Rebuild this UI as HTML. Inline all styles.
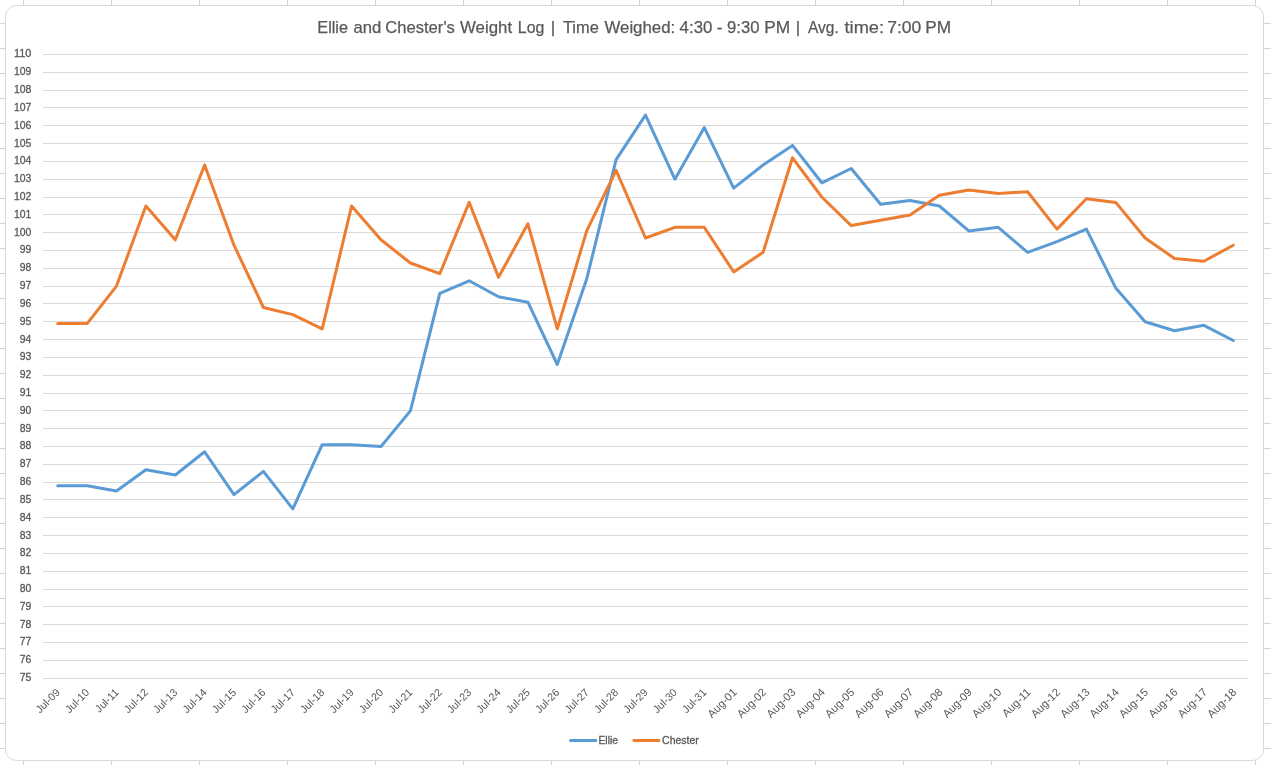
<!DOCTYPE html>
<html lang="en"><head><meta charset="utf-8"><title>Ellie and Chester's Weight Log</title>
<style>html,body{margin:0;padding:0;background:#fff;}body{width:1271px;height:765px;overflow:hidden;position:relative;font-family:"Liberation Sans",sans-serif;}svg{position:absolute;left:0;top:0;display:block}text{font-family:"Liberation Sans",sans-serif;fill:#595959}.s,.s text{stroke:#595959;stroke-width:0.3px}</style></head><body>
<svg width="1271" height="765" viewBox="0 0 1271 765">
<g fill="#D4D4D4" shape-rendering="crispEdges">
<rect x="23" y="0" width="1" height="765"/>
<rect x="111" y="0" width="1" height="765"/>
<rect x="199" y="0" width="1" height="765"/>
<rect x="287" y="0" width="1" height="765"/>
<rect x="375" y="0" width="1" height="765"/>
<rect x="463" y="0" width="1" height="765"/>
<rect x="551" y="0" width="1" height="765"/>
<rect x="639" y="0" width="1" height="765"/>
<rect x="727" y="0" width="1" height="765"/>
<rect x="815" y="0" width="1" height="765"/>
<rect x="903" y="0" width="1" height="765"/>
<rect x="991" y="0" width="1" height="765"/>
<rect x="1079" y="0" width="1" height="765"/>
<rect x="1167" y="0" width="1" height="765"/>
<rect x="1255" y="0" width="1" height="765"/>
<rect x="0" y="23" width="1271" height="1"/>
<rect x="0" y="48" width="1271" height="1"/>
<rect x="0" y="73" width="1271" height="1"/>
<rect x="0" y="98" width="1271" height="1"/>
<rect x="0" y="123" width="1271" height="1"/>
<rect x="0" y="148" width="1271" height="1"/>
<rect x="0" y="173" width="1271" height="1"/>
<rect x="0" y="198" width="1271" height="1"/>
<rect x="0" y="223" width="1271" height="1"/>
<rect x="0" y="248" width="1271" height="1"/>
<rect x="0" y="273" width="1271" height="1"/>
<rect x="0" y="298" width="1271" height="1"/>
<rect x="0" y="323" width="1271" height="1"/>
<rect x="0" y="348" width="1271" height="1"/>
<rect x="0" y="373" width="1271" height="1"/>
<rect x="0" y="398" width="1271" height="1"/>
<rect x="0" y="423" width="1271" height="1"/>
<rect x="0" y="448" width="1271" height="1"/>
<rect x="0" y="473" width="1271" height="1"/>
<rect x="0" y="498" width="1271" height="1"/>
<rect x="0" y="523" width="1271" height="1"/>
<rect x="0" y="548" width="1271" height="1"/>
<rect x="0" y="573" width="1271" height="1"/>
<rect x="0" y="598" width="1271" height="1"/>
<rect x="0" y="623" width="1271" height="1"/>
<rect x="0" y="648" width="1271" height="1"/>
<rect x="0" y="673" width="1271" height="1"/>
<rect x="0" y="698" width="1271" height="1"/>
<rect x="0" y="723" width="1271" height="1"/>
<rect x="0" y="748" width="1271" height="1"/>
</g>
<rect x="5.5" y="5.5" width="1258" height="755" rx="11" ry="11" fill="#fff" stroke="#D9D9D9" stroke-width="1"/>
<g fill="#D9D9D9" shape-rendering="crispEdges">
<rect x="43" y="54" width="1205" height="1"/>
<rect x="43" y="72" width="1205" height="1"/>
<rect x="43" y="90" width="1205" height="1"/>
<rect x="43" y="107" width="1205" height="1"/>
<rect x="43" y="125" width="1205" height="1"/>
<rect x="43" y="143" width="1205" height="1"/>
<rect x="43" y="161" width="1205" height="1"/>
<rect x="43" y="179" width="1205" height="1"/>
<rect x="43" y="197" width="1205" height="1"/>
<rect x="43" y="214" width="1205" height="1"/>
<rect x="43" y="232" width="1205" height="1"/>
<rect x="43" y="250" width="1205" height="1"/>
<rect x="43" y="268" width="1205" height="1"/>
<rect x="43" y="286" width="1205" height="1"/>
<rect x="43" y="303" width="1205" height="1"/>
<rect x="43" y="321" width="1205" height="1"/>
<rect x="43" y="339" width="1205" height="1"/>
<rect x="43" y="357" width="1205" height="1"/>
<rect x="43" y="375" width="1205" height="1"/>
<rect x="43" y="393" width="1205" height="1"/>
<rect x="43" y="410" width="1205" height="1"/>
<rect x="43" y="428" width="1205" height="1"/>
<rect x="43" y="446" width="1205" height="1"/>
<rect x="43" y="464" width="1205" height="1"/>
<rect x="43" y="482" width="1205" height="1"/>
<rect x="43" y="499" width="1205" height="1"/>
<rect x="43" y="517" width="1205" height="1"/>
<rect x="43" y="535" width="1205" height="1"/>
<rect x="43" y="553" width="1205" height="1"/>
<rect x="43" y="571" width="1205" height="1"/>
<rect x="43" y="589" width="1205" height="1"/>
<rect x="43" y="606" width="1205" height="1"/>
<rect x="43" y="624" width="1205" height="1"/>
<rect x="43" y="642" width="1205" height="1"/>
<rect x="43" y="660" width="1205" height="1"/>
<rect x="43" y="678" width="1205" height="1"/>
</g>
<g class="s" font-size="10.5" text-anchor="end">
<text x="31.4" y="57" textLength="17.4" lengthAdjust="spacingAndGlyphs">110</text>
<text x="31.4" y="75" textLength="17.4" lengthAdjust="spacingAndGlyphs">109</text>
<text x="31.4" y="93" textLength="17.4" lengthAdjust="spacingAndGlyphs">108</text>
<text x="31.4" y="111" textLength="17.4" lengthAdjust="spacingAndGlyphs">107</text>
<text x="31.4" y="129" textLength="17.4" lengthAdjust="spacingAndGlyphs">106</text>
<text x="31.4" y="147" textLength="17.4" lengthAdjust="spacingAndGlyphs">105</text>
<text x="31.4" y="164" textLength="17.4" lengthAdjust="spacingAndGlyphs">104</text>
<text x="31.4" y="182" textLength="17.4" lengthAdjust="spacingAndGlyphs">103</text>
<text x="31.4" y="200" textLength="17.4" lengthAdjust="spacingAndGlyphs">102</text>
<text x="31.4" y="218" textLength="17.4" lengthAdjust="spacingAndGlyphs">101</text>
<text x="31.4" y="236" textLength="17.4" lengthAdjust="spacingAndGlyphs">100</text>
<text x="31.4" y="253" textLength="11.6" lengthAdjust="spacingAndGlyphs">99</text>
<text x="31.4" y="271" textLength="11.6" lengthAdjust="spacingAndGlyphs">98</text>
<text x="31.4" y="289" textLength="11.6" lengthAdjust="spacingAndGlyphs">97</text>
<text x="31.4" y="307" textLength="11.6" lengthAdjust="spacingAndGlyphs">96</text>
<text x="31.4" y="325" textLength="11.6" lengthAdjust="spacingAndGlyphs">95</text>
<text x="31.4" y="343" textLength="11.6" lengthAdjust="spacingAndGlyphs">94</text>
<text x="31.4" y="360" textLength="11.6" lengthAdjust="spacingAndGlyphs">93</text>
<text x="31.4" y="378" textLength="11.6" lengthAdjust="spacingAndGlyphs">92</text>
<text x="31.4" y="396" textLength="11.6" lengthAdjust="spacingAndGlyphs">91</text>
<text x="31.4" y="414" textLength="11.6" lengthAdjust="spacingAndGlyphs">90</text>
<text x="31.4" y="432" textLength="11.6" lengthAdjust="spacingAndGlyphs">89</text>
<text x="31.4" y="449" textLength="11.6" lengthAdjust="spacingAndGlyphs">88</text>
<text x="31.4" y="467" textLength="11.6" lengthAdjust="spacingAndGlyphs">87</text>
<text x="31.4" y="485" textLength="11.6" lengthAdjust="spacingAndGlyphs">86</text>
<text x="31.4" y="503" textLength="11.6" lengthAdjust="spacingAndGlyphs">85</text>
<text x="31.4" y="521" textLength="11.6" lengthAdjust="spacingAndGlyphs">84</text>
<text x="31.4" y="539" textLength="11.6" lengthAdjust="spacingAndGlyphs">83</text>
<text x="31.4" y="556" textLength="11.6" lengthAdjust="spacingAndGlyphs">82</text>
<text x="31.4" y="574" textLength="11.6" lengthAdjust="spacingAndGlyphs">81</text>
<text x="31.4" y="592" textLength="11.6" lengthAdjust="spacingAndGlyphs">80</text>
<text x="31.4" y="610" textLength="11.6" lengthAdjust="spacingAndGlyphs">79</text>
<text x="31.4" y="628" textLength="11.6" lengthAdjust="spacingAndGlyphs">78</text>
<text x="31.4" y="645" textLength="11.6" lengthAdjust="spacingAndGlyphs">77</text>
<text x="31.4" y="663" textLength="11.6" lengthAdjust="spacingAndGlyphs">76</text>
<text x="31.4" y="681" textLength="11.6" lengthAdjust="spacingAndGlyphs">75</text>
</g>
<g text-anchor="end">
<text font-size="10.7" transform="translate(60.6 693.1) rotate(-45)">Jul-09</text>
<text font-size="10.7" transform="translate(90.0 693.1) rotate(-45)">Jul-10</text>
<text font-size="10.7" transform="translate(119.4 693.1) rotate(-45)">Jul-11</text>
<text font-size="10.7" transform="translate(148.8 693.1) rotate(-45)">Jul-12</text>
<text font-size="10.7" transform="translate(178.2 693.1) rotate(-45)">Jul-13</text>
<text font-size="10.7" transform="translate(207.5 693.1) rotate(-45)">Jul-14</text>
<text font-size="10.7" transform="translate(236.9 693.1) rotate(-45)">Jul-15</text>
<text font-size="10.7" transform="translate(266.3 693.1) rotate(-45)">Jul-16</text>
<text font-size="10.7" transform="translate(295.7 693.1) rotate(-45)">Jul-17</text>
<text font-size="10.7" transform="translate(325.1 693.1) rotate(-45)">Jul-18</text>
<text font-size="10.7" transform="translate(354.5 693.1) rotate(-45)">Jul-19</text>
<text font-size="10.7" transform="translate(383.9 693.1) rotate(-45)">Jul-20</text>
<text font-size="10.7" transform="translate(413.3 693.1) rotate(-45)">Jul-21</text>
<text font-size="10.7" transform="translate(442.7 693.1) rotate(-45)">Jul-22</text>
<text font-size="10.7" transform="translate(472.1 693.1) rotate(-45)">Jul-23</text>
<text font-size="10.7" transform="translate(501.4 693.1) rotate(-45)">Jul-24</text>
<text font-size="10.7" transform="translate(530.8 693.1) rotate(-45)">Jul-25</text>
<text font-size="10.7" transform="translate(560.2 693.1) rotate(-45)">Jul-26</text>
<text font-size="10.7" transform="translate(589.6 693.1) rotate(-45)">Jul-27</text>
<text font-size="10.7" transform="translate(619.0 693.1) rotate(-45)">Jul-28</text>
<text font-size="10.7" transform="translate(648.4 693.1) rotate(-45)">Jul-29</text>
<text font-size="10.7" transform="translate(677.8 693.1) rotate(-45)">Jul-30</text>
<text font-size="10.7" transform="translate(707.2 693.1) rotate(-45)">Jul-31</text>
<text font-size="11.2" transform="translate(737.6 692.9) rotate(-45)">Aug-01</text>
<text font-size="11.2" transform="translate(767.0 692.9) rotate(-45)">Aug-02</text>
<text font-size="11.2" transform="translate(796.4 692.9) rotate(-45)">Aug-03</text>
<text font-size="11.2" transform="translate(825.7 692.9) rotate(-45)">Aug-04</text>
<text font-size="11.2" transform="translate(855.1 692.9) rotate(-45)">Aug-05</text>
<text font-size="11.2" transform="translate(884.5 692.9) rotate(-45)">Aug-06</text>
<text font-size="11.2" transform="translate(913.9 692.9) rotate(-45)">Aug-07</text>
<text font-size="11.2" transform="translate(943.3 692.9) rotate(-45)">Aug-08</text>
<text font-size="11.2" transform="translate(972.7 692.9) rotate(-45)">Aug-09</text>
<text font-size="11.2" transform="translate(1002.1 692.9) rotate(-45)">Aug-10</text>
<text font-size="11.2" transform="translate(1031.5 692.9) rotate(-45)">Aug-11</text>
<text font-size="11.2" transform="translate(1060.9 692.9) rotate(-45)">Aug-12</text>
<text font-size="11.2" transform="translate(1090.3 692.9) rotate(-45)">Aug-13</text>
<text font-size="11.2" transform="translate(1119.6 692.9) rotate(-45)">Aug-14</text>
<text font-size="11.2" transform="translate(1149.0 692.9) rotate(-45)">Aug-15</text>
<text font-size="11.2" transform="translate(1178.4 692.9) rotate(-45)">Aug-16</text>
<text font-size="11.2" transform="translate(1207.8 692.9) rotate(-45)">Aug-17</text>
<text font-size="11.2" transform="translate(1237.2 692.9) rotate(-45)">Aug-18</text>
</g>
<polyline points="57.7,485.7 87.1,485.7 116.5,491.0 145.9,469.7 175.3,475.0 204.6,451.8 234.0,494.6 263.4,471.4 292.8,508.9 322.2,444.7 351.6,444.7 381.0,446.5 410.4,410.9 439.8,293.3 469.2,280.8 498.5,296.8 527.9,302.2 557.3,364.5 586.7,279.0 616.1,159.6 645.5,115.1 674.9,179.2 704.3,127.6 733.7,188.1 763.1,165.0 792.5,145.4 821.8,182.8 851.2,168.5 880.6,204.2 910.0,200.6 939.4,206.0 968.8,230.9 998.2,227.3 1027.6,252.3 1057.0,241.6 1086.4,229.1 1115.7,287.9 1145.1,321.8 1174.5,330.7 1203.9,325.3 1233.3,340.5" fill="none" stroke="#5B9BD5" stroke-width="3" stroke-linecap="round" stroke-linejoin="round"/>
<polyline points="57.7,323.6 87.1,323.6 116.5,286.1 145.9,206.0 175.3,239.8 204.6,165.0 234.0,245.2 263.4,307.5 292.8,314.6 322.2,328.9 351.6,206.0 381.0,239.8 410.4,263.0 439.8,273.7 469.2,202.4 498.5,277.2 527.9,223.8 557.3,328.9 586.7,230.9 616.1,170.3 645.5,238.0 674.9,227.3 704.3,227.3 733.7,271.9 763.1,252.3 792.5,157.8 821.8,197.0 851.2,225.6 880.6,220.2 910.0,214.9 939.4,195.3 968.8,189.9 998.2,193.5 1027.6,191.7 1057.0,229.1 1086.4,198.8 1115.7,202.4 1145.1,238.0 1174.5,258.5 1203.9,261.2 1233.3,245.2" fill="none" stroke="#ED7D31" stroke-width="3" stroke-linecap="round" stroke-linejoin="round"/>
<text y="32.7" font-size="17.0" stroke="#595959" stroke-width="0.25"><tspan x="317.32" textLength="30.64" lengthAdjust="spacingAndGlyphs">Ellie</tspan> <tspan x="353.50" textLength="27.76" lengthAdjust="spacingAndGlyphs">and</tspan> <tspan x="385.24" textLength="69.64" lengthAdjust="spacingAndGlyphs">Chester's</tspan> <tspan x="460.04" textLength="52.04" lengthAdjust="spacingAndGlyphs">Weight</tspan> <tspan x="517.86" textLength="26.52" lengthAdjust="spacingAndGlyphs">Log</tspan> <tspan x="550.82">|</tspan> <tspan x="562.96" textLength="35.88" lengthAdjust="spacingAndGlyphs">Time</tspan> <tspan x="604.46" textLength="70.76" lengthAdjust="spacingAndGlyphs">Weighed:</tspan> <tspan x="679.58" textLength="32.80" lengthAdjust="spacingAndGlyphs">4:30</tspan> <tspan x="716.66">-</tspan> <tspan x="727.08" textLength="32.42" lengthAdjust="spacingAndGlyphs">9:30</tspan> <tspan x="764.36" textLength="25.86" lengthAdjust="spacingAndGlyphs">PM</tspan> <tspan x="795.86">|</tspan> <tspan x="807.92" textLength="30.84" lengthAdjust="spacingAndGlyphs">Avg.</tspan> <tspan x="844.54" textLength="39.56" lengthAdjust="spacingAndGlyphs">time:</tspan> <tspan x="887.24" textLength="34.10" lengthAdjust="spacingAndGlyphs">7:00</tspan> <tspan x="925.32" textLength="25.86" lengthAdjust="spacingAndGlyphs">PM</tspan></text>
<line x1="570.6" y1="740.5" x2="595.9" y2="740.5" stroke="#5B9BD5" stroke-width="3" stroke-linecap="round"/>
<text class="s" x="598.5" y="743.9" font-size="10.3">Ellie</text>
<line x1="633.9" y1="740.5" x2="658.9" y2="740.5" stroke="#ED7D31" stroke-width="3" stroke-linecap="round"/>
<text class="s" x="662.1" y="743.9" font-size="10.3" textLength="36.7" lengthAdjust="spacingAndGlyphs">Chester</text>
</svg></body></html>
